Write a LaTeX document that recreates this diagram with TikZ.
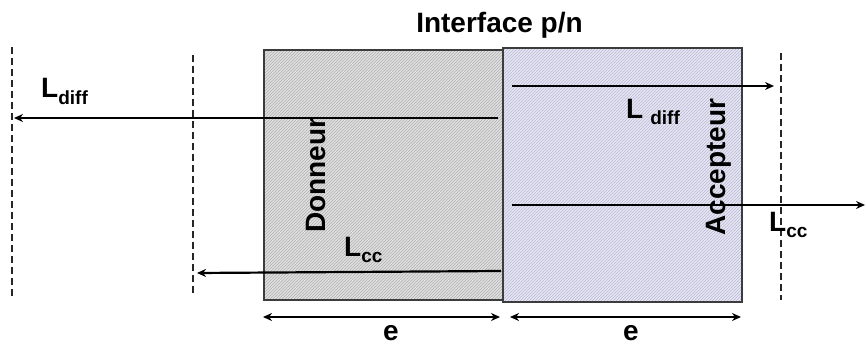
\documentclass[tikz,border=0pt]{standalone}
\usepackage{fontspec}
\setmainfont{Liberation Sans}
\usetikzlibrary{arrows.meta,patterns}
\definecolor{donfill}{RGB}{225,225,225}
\definecolor{donhatch}{RGB}{175,175,175}
\definecolor{accfill}{RGB}{230,230,244}
\definecolor{acchatch}{RGB}{185,185,212}
\definecolor{edge}{RGB}{60,60,60}
\tikzset{
  layer/.style={draw=edge, line width=1.5pt, inner sep=0pt, rectangle},
  conn/.style={line width=2.2pt, -{Stealth[length=9pt,width=8pt]}},
  dimline/.style={line width=2.2pt, {Stealth[length=9pt,width=8pt]}-{Stealth[length=9pt,width=8pt]}},
  limit/.style={line width=1.5pt, dash pattern=on 7pt off 4pt, draw=black!85},
  lbl/.style={inner sep=0pt, font=\fontsize{28}{30}\selectfont\bfseries},
}
\newcommand{\subtxt}[2]{\raisebox{-#1}{\fontsize{19}{20}\selectfont #2}}
\begin{document}
\begin{tikzpicture}[x=1pt,y=-1pt]
\useasboundingbox (0,0) rectangle (866,344);
% layers
\node (don) [layer, minimum width=239pt, minimum height=250pt,
  preaction={fill=donfill}, pattern=north east lines, pattern color=donhatch] at (383.5,175) {};
\node (acc) [layer, minimum width=239pt, minimum height=254pt,
  preaction={fill=accfill}, pattern=north east lines, pattern color=acchatch] at (622.5,175) {};
% limits
\coordinate (d1t) at (12,47);  \coordinate (d1b) at (12,299);
\coordinate (d2t) at (193,55); \coordinate (d2b) at (193,293);
\coordinate (d3t) at (781,53); \coordinate (d3b) at (781,300);
\draw[limit] (d1t) -- (d1b);
\draw[limit] (d2t) -- (d2b);
\draw[limit] (d3t) -- (d3b);
% arrows
\coordinate (a1s) at (498,118); \coordinate (a1e) at (14,118);
\coordinate (a2s) at (512,86);  \coordinate (a2e) at (774,86);
\coordinate (a3s) at (512,205); \coordinate (a3e) at (865,205);
\coordinate (a4s) at (501,271); \coordinate (a4e) at (197,273);
\draw[conn] (a1s) -- (a1e);
\draw[conn] (a2s) -- (a2e);
\draw[conn] (a3s) -- (a3e);
\draw[conn] (a4s) -- (a4e);
% dimensions
\coordinate (e1s) at (263,317); \coordinate (e1e) at (500,317);
\coordinate (e2s) at (510,317); \coordinate (e2e) at (741,317);
\draw[dimline] (e1s) -- (e1e);
\draw[dimline] (e2s) -- (e2e);
% texts
\node (title) [lbl, anchor=base] at (499.5,33) {Interface p/n};
\node (donl) [lbl, rotate=90, anchor=base] at (325,175) {Donneur};
\node (accl) [lbl, rotate=90, anchor=base] at (725,167) {Accepteur};
\node (ldl) [lbl, anchor=base west] at (41,98) {L\subtxt{7pt}{diff}};
\node (ldr) [lbl, anchor=base west] at (626,119) {L\hspace{7pt}\subtxt{6pt}{diff}};
\node (lcr) [lbl, anchor=base west] at (769,232) {L\subtxt{6pt}{cc}};
\node (lcl) [lbl, anchor=base west] at (344,257) {L\subtxt{6pt}{cc}};
\node (e1) [lbl, anchor=base] at (391,340) {e};
\node (e2) [lbl, anchor=base] at (631,340) {e};
\end{tikzpicture}
\end{document}
